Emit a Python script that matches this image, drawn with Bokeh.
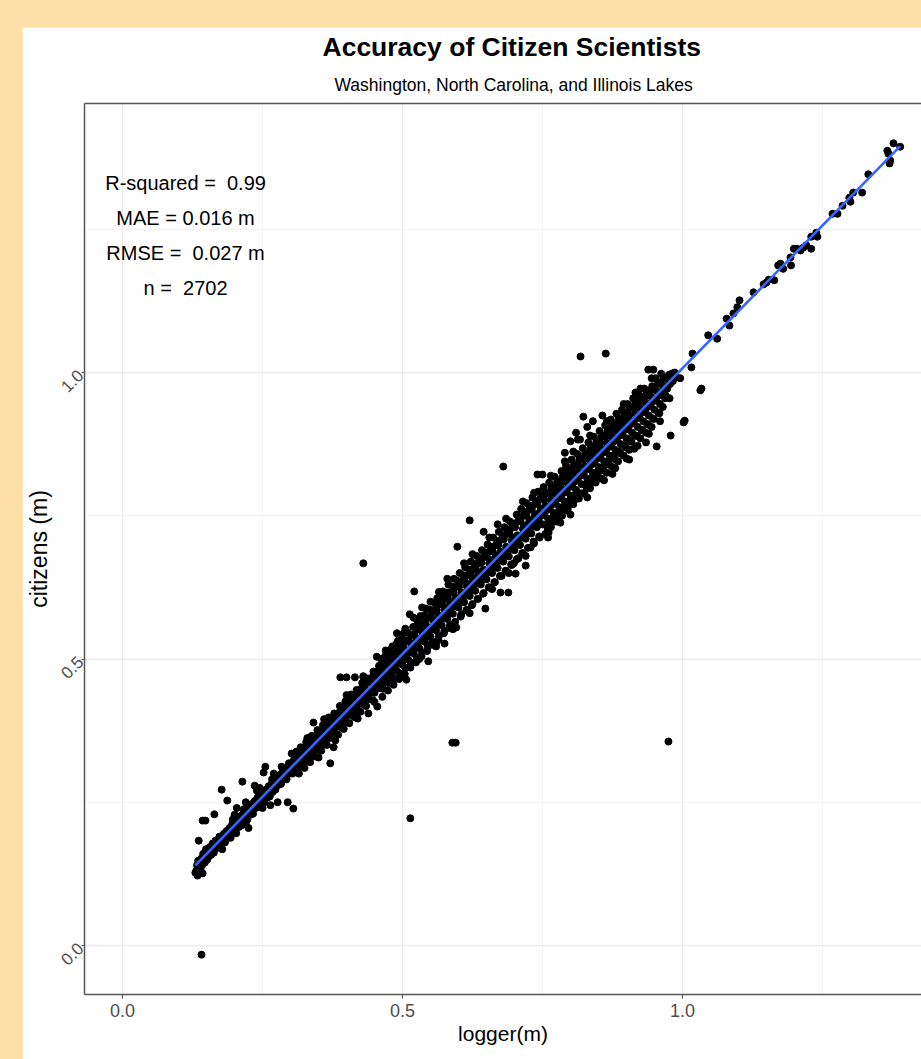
import math
from bokeh.plotting import figure
from bokeh.models import (Title, Label, FixedTicker, Range1d, LinearAxis,
                          PrintfTickFormatter, GlobalInlineStyleSheet)
from bokeh.embed import file_html
from bokeh.resources import INLINE

# ---------------- data ----------------
title_text = "Accuracy of Citizen Scientists"
subtitle_text = "Washington, North Carolina, and Illinois Lakes"
x_label = "logger(m)"
y_label = "citizens (m)"
tick_values = [0.0, 0.5, 1.0]
minor_tick_values = [0.25, 0.75, 1.25]
stats_lines = ["R-squared = \u00a00.99", "MAE = 0.016 m", "RMSE = \u00a00.027 m", "n = \u00a02702"]

# low band, logger 0.13 - 0.30
logger_low = [
    0.130, 0.134, 0.133, 0.137, 0.139,
    0.141, 0.143, 0.144, 0.147, 0.149,
    0.151, 0.153, 0.156, 0.158, 0.143, 0.148, 0.136,
    0.161, 0.163, 0.166, 0.168, 0.164,
    0.171, 0.173, 0.176, 0.178, 0.177,
    0.181, 0.183, 0.186, 0.188, 0.187,
    0.191, 0.193, 0.196, 0.198,
    0.201, 0.203, 0.206, 0.208, 0.204,
    0.211, 0.213, 0.216, 0.218, 0.214,
    0.221, 0.223, 0.226, 0.228, 0.225,
    0.231, 0.233, 0.236, 0.238, 0.236,
    0.241, 0.243, 0.246, 0.248, 0.245,
    0.251, 0.253, 0.256, 0.258, 0.255, 0.252,
    0.261, 0.263, 0.266, 0.268, 0.264,
    0.271, 0.273, 0.276, 0.278, 0.277,
    0.281, 0.283, 0.286, 0.288, 0.284,
    0.291, 0.293, 0.296, 0.298, 0.295,
    0.301, 0.303, 0.306, 0.308, 0.305, 0.302,
]
citizens_low = [
    0.127, 0.122, 0.140, 0.148, 0.133,
    0.152, 0.126, 0.160, 0.145, 0.168,
    0.150, 0.165, 0.172, 0.158, 0.218, 0.218, 0.183,
    0.178, 0.162, 0.183, 0.170, 0.229,
    0.173, 0.190, 0.182, 0.168, 0.272,
    0.195, 0.180, 0.200, 0.188, 0.253,
    0.205, 0.188, 0.212, 0.200,
    0.215, 0.196, 0.222, 0.207, 0.240,
    0.226, 0.210, 0.232, 0.218, 0.286,
    0.236, 0.220, 0.240, 0.228, 0.205,
    0.247, 0.230, 0.252, 0.240, 0.279,
    0.258, 0.242, 0.262, 0.250, 0.275,
    0.268, 0.250, 0.272, 0.258, 0.312, 0.302,
    0.278, 0.260, 0.282, 0.268, 0.245,
    0.288, 0.272, 0.294, 0.280, 0.250,
    0.298, 0.282, 0.303, 0.290, 0.312,
    0.308, 0.290, 0.312, 0.300, 0.250,
    0.318, 0.300, 0.324, 0.309, 0.239, 0.335,
]
logger_low_fill = [
    0.135, 0.132, 0.145, 0.142, 0.155, 0.152, 0.165, 0.162, 0.175, 0.172,
    0.185, 0.182, 0.195, 0.192, 0.197, 0.205, 0.202, 0.215, 0.212, 0.217,
    0.225, 0.222, 0.235, 0.232, 0.245, 0.242, 0.255, 0.252, 0.265, 0.262,
    0.267, 0.275, 0.272, 0.285, 0.282, 0.295, 0.292, 0.297, 0.305, 0.302,
]
citizens_low_fill = [
    0.148, 0.131, 0.156, 0.140, 0.168, 0.152, 0.176, 0.170, 0.188, 0.180,
    0.197, 0.190, 0.206, 0.198, 0.220, 0.218, 0.204, 0.226, 0.220, 0.238,
    0.238, 0.230, 0.246, 0.240, 0.258, 0.250, 0.265, 0.262, 0.278, 0.270,
    0.290, 0.286, 0.280, 0.296, 0.292, 0.308, 0.300, 0.318, 0.316, 0.310,
]

# band, logger 0.31 - 0.45
logger_mid = [
    0.311, 0.313, 0.316, 0.318, 0.315,
    0.321, 0.323, 0.326, 0.328, 0.325,
    0.331, 0.333, 0.336, 0.338, 0.335,
    0.341, 0.343, 0.346, 0.348, 0.341, 0.344,
    0.351, 0.353, 0.356, 0.358, 0.355,
    0.361, 0.363, 0.366, 0.368, 0.365,
    0.371, 0.373, 0.376, 0.378, 0.371, 0.377,
    0.381, 0.383, 0.386, 0.388, 0.385,
    0.391, 0.393, 0.396, 0.398, 0.395, 0.389,
    0.401, 0.403, 0.406, 0.408, 0.405, 0.400,
    0.411, 0.413, 0.416, 0.418, 0.415, 0.415,
    0.421, 0.423, 0.426, 0.428, 0.425,
    0.431, 0.433, 0.436, 0.438, 0.435, 0.430,
    0.441, 0.443, 0.446, 0.448, 0.439, 0.447,
    0.451, 0.453, 0.456, 0.458, 0.455, 0.454,
]
citizens_mid = [
    0.330, 0.310, 0.335, 0.320, 0.300,
    0.340, 0.322, 0.346, 0.330, 0.310,
    0.350, 0.332, 0.355, 0.340, 0.320,
    0.362, 0.342, 0.365, 0.350, 0.389, 0.330,
    0.372, 0.352, 0.377, 0.360, 0.340,
    0.382, 0.362, 0.386, 0.370, 0.350,
    0.392, 0.372, 0.396, 0.380, 0.318, 0.346,
    0.402, 0.383, 0.406, 0.390, 0.368,
    0.412, 0.393, 0.416, 0.400, 0.378, 0.468,
    0.422, 0.403, 0.428, 0.410, 0.388, 0.468,
    0.432, 0.412, 0.438, 0.420, 0.398, 0.468,
    0.442, 0.422, 0.448, 0.430, 0.408,
    0.452, 0.432, 0.458, 0.440, 0.418, 0.468,
    0.462, 0.442, 0.468, 0.450, 0.405, 0.428,
    0.472, 0.452, 0.478, 0.460, 0.417, 0.504,
]
logger_mid_fill = [
    0.315, 0.310, 0.318, 0.325, 0.320, 0.328, 0.335, 0.330, 0.338,
    0.345, 0.340, 0.348, 0.355, 0.350, 0.358, 0.365, 0.360, 0.368,
    0.375, 0.370, 0.378, 0.385, 0.380, 0.388, 0.395, 0.390, 0.398,
    0.405, 0.400, 0.408, 0.415, 0.410, 0.418, 0.425, 0.420, 0.428,
    0.435, 0.430, 0.438, 0.445, 0.440, 0.448, 0.455, 0.450, 0.458,
]
citizens_mid_fill = [
    0.326, 0.302, 0.346, 0.337, 0.313, 0.355, 0.346, 0.322, 0.366,
    0.357, 0.331, 0.376, 0.366, 0.342, 0.385, 0.377, 0.351, 0.398,
    0.386, 0.362, 0.405, 0.397, 0.370, 0.418, 0.406, 0.381, 0.426,
    0.417, 0.390, 0.438, 0.426, 0.401, 0.446, 0.437, 0.410, 0.458,
    0.446, 0.421, 0.466, 0.457, 0.430, 0.478, 0.466, 0.441, 0.488,
]

# band, logger 0.46 - 0.60
logger_upper_mid = [
    0.461, 0.463, 0.466, 0.468, 0.465, 0.462, 0.467,
    0.471, 0.473, 0.476, 0.478, 0.475, 0.472, 0.477,
    0.481, 0.483, 0.486, 0.488, 0.485, 0.482, 0.487,
    0.491, 0.493, 0.496, 0.498, 0.495, 0.492, 0.497,
    0.501, 0.503, 0.506, 0.508, 0.505, 0.502, 0.507,
    0.511, 0.513, 0.516, 0.518, 0.515, 0.513,
    0.521, 0.523, 0.526, 0.528, 0.525, 0.521, 0.527,
    0.531, 0.533, 0.536, 0.538, 0.535, 0.532, 0.537,
    0.541, 0.543, 0.546, 0.548, 0.545, 0.542, 0.546,
    0.551, 0.553, 0.556, 0.558, 0.555, 0.552, 0.560,
    0.561, 0.563, 0.566, 0.568, 0.565, 0.562, 0.575,
    0.571, 0.573, 0.576, 0.578, 0.575, 0.572, 0.577,
    0.581, 0.583, 0.586, 0.588, 0.585, 0.582, 0.587,
    0.591, 0.593, 0.596, 0.598, 0.596, 0.592,
    0.601, 0.603, 0.606, 0.608, 0.605, 0.602, 0.598,
]
citizens_upper_mid = [
    0.482, 0.462, 0.490, 0.470, 0.448, 0.500, 0.478,
    0.492, 0.472, 0.500, 0.480, 0.458, 0.510, 0.488,
    0.503, 0.482, 0.510, 0.490, 0.466, 0.522, 0.498,
    0.513, 0.492, 0.520, 0.500, 0.475, 0.532, 0.508,
    0.523, 0.502, 0.532, 0.510, 0.485, 0.545, 0.464,
    0.533, 0.512, 0.542, 0.520, 0.494, 0.578,
    0.543, 0.522, 0.552, 0.530, 0.503, 0.618, 0.565,
    0.553, 0.532, 0.562, 0.540, 0.512, 0.575, 0.548,
    0.564, 0.542, 0.573, 0.550, 0.520, 0.588, 0.496,
    0.574, 0.552, 0.584, 0.560, 0.530, 0.527, 0.527,
    0.585, 0.562, 0.595, 0.570, 0.540, 0.606, 0.527,
    0.595, 0.572, 0.605, 0.580, 0.550, 0.618, 0.588,
    0.606, 0.582, 0.616, 0.590, 0.560, 0.630, 0.598,
    0.616, 0.592, 0.626, 0.600, 0.555, 0.640,
    0.626, 0.602, 0.636, 0.610, 0.578, 0.650, 0.696,
]

# band, logger 0.61 - 0.74
logger_high = [
    0.611, 0.613, 0.616, 0.618, 0.615, 0.612, 0.617,
    0.621, 0.623, 0.626, 0.628, 0.625, 0.622, 0.620, 0.627,
    0.631, 0.633, 0.636, 0.638, 0.635, 0.632, 0.637,
    0.641, 0.643, 0.646, 0.648, 0.645, 0.642, 0.648, 0.645,
    0.651, 0.653, 0.656, 0.658, 0.655, 0.652, 0.657,
    0.661, 0.663, 0.666, 0.668, 0.665, 0.662, 0.667,
    0.671, 0.673, 0.676, 0.678, 0.675, 0.672, 0.670, 0.677,
    0.681, 0.683, 0.686, 0.688, 0.685, 0.682, 0.689,
    0.691, 0.693, 0.696, 0.698, 0.695, 0.692, 0.697,
    0.701, 0.703, 0.706, 0.708, 0.702, 0.699, 0.704, 0.707,
    0.711, 0.713, 0.716, 0.718, 0.715, 0.712, 0.717,
    0.721, 0.723, 0.726, 0.728, 0.720, 0.729, 0.722, 0.727,
    0.731, 0.733, 0.736, 0.738, 0.735, 0.732, 0.737,
    0.741, 0.743, 0.746, 0.748, 0.745, 0.742, 0.741, 0.747,
]
citizens_high = [
    0.637, 0.612, 0.646, 0.620, 0.586, 0.660, 0.630,
    0.647, 0.622, 0.656, 0.630, 0.596, 0.670, 0.742, 0.640,
    0.657, 0.632, 0.667, 0.640, 0.605, 0.680, 0.650,
    0.668, 0.642, 0.678, 0.650, 0.615, 0.690, 0.588, 0.722,
    0.678, 0.652, 0.688, 0.660, 0.625, 0.700, 0.670,
    0.688, 0.662, 0.698, 0.670, 0.634, 0.712, 0.680,
    0.699, 0.672, 0.708, 0.680, 0.616, 0.722, 0.735, 0.645,
    0.709, 0.682, 0.718, 0.690, 0.654, 0.730, 0.616,
    0.719, 0.692, 0.729, 0.700, 0.664, 0.740, 0.712,
    0.730, 0.702, 0.740, 0.710, 0.649, 0.667, 0.752, 0.676,
    0.740, 0.712, 0.750, 0.720, 0.684, 0.762, 0.732,
    0.750, 0.722, 0.760, 0.730, 0.663, 0.695, 0.772, 0.742,
    0.761, 0.732, 0.770, 0.740, 0.702, 0.782, 0.752,
    0.771, 0.742, 0.780, 0.750, 0.712, 0.792, 0.822, 0.762,
]
logger_high_fill = [
    0.465, 0.460, 0.469, 0.464, 0.475, 0.470, 0.479, 0.474,
    0.485, 0.480, 0.489, 0.484, 0.495, 0.490, 0.499, 0.494,
    0.505, 0.500, 0.509, 0.504, 0.515, 0.510, 0.519, 0.514,
    0.525, 0.520, 0.529, 0.524, 0.535, 0.530, 0.539, 0.534,
    0.545, 0.540, 0.549, 0.544, 0.555, 0.550, 0.559, 0.554,
    0.565, 0.560, 0.569, 0.564, 0.575, 0.570, 0.579, 0.574,
    0.585, 0.580, 0.589, 0.584, 0.595, 0.590, 0.599, 0.594,
    0.605, 0.600, 0.609, 0.604, 0.615, 0.610, 0.619, 0.614,
    0.625, 0.620, 0.629, 0.624, 0.635, 0.630, 0.639, 0.634,
    0.645, 0.640, 0.649, 0.644, 0.655, 0.650, 0.659, 0.654,
    0.665, 0.660, 0.669, 0.664, 0.675, 0.670, 0.679, 0.674,
    0.685, 0.680, 0.689, 0.684, 0.695, 0.690, 0.699, 0.694,
    0.705, 0.700, 0.709, 0.704, 0.715, 0.710, 0.719, 0.714,
    0.725, 0.720, 0.729, 0.724, 0.735, 0.730, 0.739, 0.734,
    0.745, 0.740, 0.749, 0.744,
]
citizens_high_fill = [
    0.476, 0.449, 0.505, 0.434, 0.487, 0.459, 0.516, 0.445,
    0.496, 0.470, 0.526, 0.455, 0.507, 0.479, 0.535, 0.465,
    0.516, 0.490, 0.546, 0.474, 0.527, 0.499, 0.556, 0.485,
    0.536, 0.510, 0.566, 0.494, 0.547, 0.519, 0.576, 0.505,
    0.556, 0.530, 0.586, 0.514, 0.567, 0.539, 0.596, 0.525,
    0.576, 0.550, 0.606, 0.534, 0.587, 0.559, 0.616, 0.545,
    0.596, 0.570, 0.626, 0.554, 0.607, 0.579, 0.636, 0.565,
    0.616, 0.590, 0.646, 0.574, 0.627, 0.599, 0.656, 0.585,
    0.636, 0.610, 0.666, 0.594, 0.647, 0.619, 0.676, 0.605,
    0.656, 0.630, 0.686, 0.614, 0.667, 0.639, 0.696, 0.625,
    0.676, 0.650, 0.706, 0.634, 0.687, 0.659, 0.716, 0.645,
    0.696, 0.670, 0.726, 0.654, 0.707, 0.679, 0.736, 0.665,
    0.716, 0.690, 0.746, 0.674, 0.727, 0.699, 0.756, 0.685,
    0.736, 0.710, 0.766, 0.694, 0.747, 0.719, 0.776, 0.705,
    0.756, 0.730, 0.786, 0.714,
]

# band, logger 0.75 - 0.99
logger_top = [
    0.751, 0.753, 0.756, 0.758, 0.755, 0.752, 0.750, 0.757, 0.759,
    0.761, 0.763, 0.766, 0.768, 0.765, 0.762, 0.767, 0.761,
    0.771, 0.773, 0.776, 0.778, 0.775, 0.772, 0.777, 0.774,
    0.781, 0.783, 0.786, 0.788, 0.785, 0.782, 0.787, 0.784,
    0.791, 0.793, 0.796, 0.798, 0.795, 0.792, 0.797, 0.794, 0.790,
    0.801, 0.803, 0.806, 0.808, 0.805, 0.802, 0.807, 0.804, 0.800,
    0.811, 0.813, 0.816, 0.818, 0.815, 0.812, 0.813, 0.817, 0.810,
    0.821, 0.823, 0.826, 0.828, 0.825, 0.822, 0.823, 0.827,
    0.831, 0.833, 0.836, 0.838, 0.835, 0.832, 0.837, 0.834, 0.830,
    0.841, 0.843, 0.846, 0.848, 0.845, 0.842, 0.847, 0.844, 0.840,
    0.851, 0.853, 0.856, 0.858, 0.855, 0.852, 0.857, 0.859,
    0.861, 0.863, 0.866, 0.868, 0.865, 0.862, 0.867,
    0.871, 0.873, 0.876, 0.878, 0.875, 0.872, 0.877, 0.874,
    0.881, 0.883, 0.886, 0.888, 0.885, 0.882, 0.887, 0.884,
    0.891, 0.893, 0.896, 0.898, 0.895, 0.892, 0.897, 0.894,
    0.901, 0.903, 0.906, 0.908, 0.905, 0.902, 0.907, 0.904,
    0.911, 0.913, 0.916, 0.918, 0.914, 0.912, 0.916, 0.917,
    0.921, 0.923, 0.926, 0.928, 0.925, 0.922, 0.927,
    0.931, 0.933, 0.936, 0.938, 0.935, 0.932, 0.937,
    0.941, 0.943, 0.946, 0.948, 0.945, 0.939, 0.948, 0.947,
    0.951, 0.953, 0.956, 0.958, 0.954, 0.952, 0.957,
    0.961, 0.963, 0.966, 0.968, 0.965, 0.962,
    0.971, 0.973, 0.976, 0.978, 0.979, 0.977,
    0.981, 0.983, 0.986, 0.988, 0.996,
]
citizens_top = [
    0.780, 0.752, 0.790, 0.760, 0.718, 0.800, 0.822, 0.735, 0.721,
    0.790, 0.762, 0.798, 0.770, 0.730, 0.808, 0.745, 0.721,
    0.800, 0.772, 0.808, 0.780, 0.740, 0.818, 0.755, 0.790,
    0.810, 0.782, 0.818, 0.790, 0.750, 0.738, 0.765, 0.828,
    0.820, 0.792, 0.828, 0.800, 0.760, 0.838, 0.775, 0.810, 0.860,
    0.830, 0.802, 0.838, 0.810, 0.770, 0.848, 0.785, 0.820, 0.880,
    0.840, 0.812, 0.848, 0.820, 0.780, 0.858, 0.883, 0.883, 0.895,
    0.850, 0.822, 0.858, 0.830, 0.790, 0.868, 0.923, 0.805,
    0.860, 0.832, 0.868, 0.840, 0.798, 0.878, 0.815, 0.850, 0.905,
    0.870, 0.842, 0.878, 0.850, 0.808, 0.888, 0.825, 0.860, 0.915,
    0.880, 0.852, 0.888, 0.860, 0.815, 0.898, 0.925, 0.835,
    0.890, 0.862, 0.898, 0.870, 0.825, 0.908, 0.845,
    0.900, 0.872, 0.908, 0.880, 0.835, 0.918, 0.855, 0.890,
    0.910, 0.882, 0.918, 0.890, 0.845, 0.928, 0.862, 0.900,
    0.920, 0.892, 0.928, 0.900, 0.855, 0.935, 0.872, 0.910,
    0.930, 0.902, 0.938, 0.910, 0.865, 0.945, 0.882, 0.920,
    0.940, 0.912, 0.948, 0.920, 0.867, 0.955, 0.965, 0.890,
    0.948, 0.922, 0.956, 0.930, 0.885, 0.962, 0.900,
    0.958, 0.932, 0.966, 0.940, 0.895, 0.972, 0.910,
    0.968, 0.942, 0.976, 0.950, 0.905, 1.005, 1.005, 0.920,
    0.975, 0.952, 0.982, 0.960, 0.871, 0.990, 0.930,
    0.982, 0.962, 0.990, 0.970, 0.940, 0.998,
    0.990, 0.972, 0.996, 0.980, 0.890, 0.955,
    0.998, 0.985, 1.000, 0.992, 0.990,
]
logger_top_fill = [
    0.755, 0.750, 0.759, 0.753, 0.765, 0.760, 0.769, 0.763,
    0.775, 0.770, 0.779, 0.773, 0.785, 0.780, 0.789, 0.783,
    0.795, 0.790, 0.799, 0.793, 0.805, 0.800, 0.809, 0.803,
    0.815, 0.810, 0.819, 0.813, 0.825, 0.820, 0.829, 0.823,
    0.835, 0.830, 0.839, 0.833, 0.845, 0.840, 0.849, 0.843,
    0.855, 0.850, 0.859, 0.853, 0.865, 0.860, 0.869, 0.863,
    0.875, 0.870, 0.879, 0.873, 0.885, 0.880, 0.889, 0.883,
    0.895, 0.890, 0.899, 0.893, 0.905, 0.900, 0.909, 0.903,
    0.915, 0.910, 0.919, 0.913, 0.925, 0.920, 0.929, 0.923,
    0.935, 0.930, 0.939, 0.933, 0.945, 0.940, 0.949, 0.943,
    0.955, 0.950, 0.959, 0.965, 0.960, 0.969, 0.975, 0.970,
]
citizens_top_fill = [
    0.767, 0.735, 0.729, 0.778, 0.777, 0.745, 0.739, 0.788,
    0.787, 0.755, 0.749, 0.798, 0.797, 0.765, 0.759, 0.808,
    0.807, 0.775, 0.769, 0.818, 0.817, 0.785, 0.779, 0.828,
    0.827, 0.795, 0.789, 0.838, 0.837, 0.805, 0.799, 0.848,
    0.847, 0.815, 0.809, 0.858, 0.857, 0.825, 0.819, 0.868,
    0.867, 0.835, 0.829, 0.878, 0.877, 0.845, 0.839, 0.888,
    0.887, 0.855, 0.849, 0.898, 0.897, 0.865, 0.859, 0.908,
    0.907, 0.875, 0.869, 0.918, 0.917, 0.885, 0.879, 0.928,
    0.927, 0.895, 0.889, 0.938, 0.937, 0.905, 0.899, 0.948,
    0.947, 0.915, 0.909, 0.958, 0.957, 0.925, 0.919, 0.968,
    0.967, 0.935, 0.929, 0.977, 0.945, 0.955, 0.987, 0.960,
]

# ragged edges of the cloud
logger_edge = [
    0.470, 0.490, 0.505, 0.520, 0.535, 0.550, 0.565, 0.580, 0.610, 0.625,
    0.655, 0.685, 0.715, 0.735, 0.765, 0.790, 0.805, 0.835, 0.865, 0.895,
    0.925, 0.945,
    0.500, 0.530, 0.560, 0.590, 0.620, 0.660, 0.690, 0.720, 0.760, 0.800,
    0.830, 0.860, 0.880, 0.900, 0.920, 0.940, 0.960, 0.935, 0.905, 0.875,
    0.200, 0.220, 0.240, 0.270, 0.310, 0.330, 0.360, 0.400, 0.430, 0.350,
    0.380, 0.420, 0.450, 0.250, 0.220,
]
citizens_edge = [
    0.515, 0.545, 0.553, 0.572, 0.590, 0.600, 0.617, 0.640, 0.667, 0.683,
    0.712, 0.745, 0.775, 0.790, 0.820, 0.845, 0.862, 0.890, 0.915, 0.945,
    0.972, 0.990,
    0.470, 0.500, 0.522, 0.552, 0.580, 0.622, 0.650, 0.680, 0.712, 0.752,
    0.782, 0.812, 0.833, 0.850, 0.872, 0.893, 0.915, 0.878, 0.848, 0.823,
    0.228, 0.250, 0.270, 0.300, 0.338, 0.362, 0.395, 0.437, 0.470, 0.328,
    0.358, 0.396, 0.425, 0.240, 0.212,
]

# sparse points above logger 1.0
logger_deep = [
    1.002, 1.004, 1.018, 1.016, 1.032, 1.034, 1.046, 1.062, 1.079, 1.084,
    1.091, 1.098, 1.102, 1.127, 1.145, 1.150, 1.154, 1.164, 1.171, 1.175,
    1.180, 1.193, 1.194, 1.199, 1.205, 1.211, 1.216, 1.221, 1.230, 1.230,
    1.239, 1.241, 1.268, 1.277, 1.286, 1.298, 1.300, 1.305, 1.321, 1.332,
    1.366, 1.368, 1.371, 1.370, 1.377, 1.389,
]
citizens_deep = [
    0.913, 0.916, 1.033, 1.009, 0.969, 0.972, 1.065, 1.059, 1.094, 1.082,
    1.103, 1.114, 1.126, 1.140, 1.154, 1.157, 1.162, 1.161, 1.187, 1.190,
    1.181, 1.201, 1.187, 1.216, 1.216, 1.213, 1.218, 1.222, 1.216, 1.237,
    1.244, 1.237, 1.277, 1.277, 1.291, 1.305, 1.298, 1.314, 1.314, 1.346,
    1.387, 1.382, 1.370, 1.365, 1.400, 1.394,
]

# isolated outliers
logger_out = [0.141, 0.514, 0.589, 0.595, 0.975, 0.430, 0.818, 0.863, 0.680]
citizens_out = [-0.016, 0.222, 0.354, 0.354, 0.356, 0.667, 1.028, 1.033, 0.836]

# fitted linear trend (end points)
fit_logger = [0.130, 1.389]
fit_citizens = [0.140, 1.395]

# ---------------- assemble ----------------
def pair(a, b):
    n = min(len(a), len(b))
    return list(a[:n]), list(b[:n])

groups = [(logger_low, citizens_low), (logger_low_fill, citizens_low_fill),
          (logger_mid, citizens_mid), (logger_mid_fill, citizens_mid_fill),
          (logger_upper_mid, citizens_upper_mid), (logger_high, citizens_high),
          (logger_high_fill, citizens_high_fill),
          (logger_top, citizens_top), (logger_top_fill, citizens_top_fill),
          (logger_edge, citizens_edge),
          (logger_deep, citizens_deep), (logger_out, citizens_out)]
xs, ys = [], []
for a, b in groups:
    pa, pb = pair(a, b)
    xs += pa
    ys += pb

BEIGE = "#FDDFA7"
SANS = "Liberation Sans"
GREY_TXT = "#4D4D4D"
AXIS_COL = "#555555"

p = figure(width=899, height=1032, output_backend="svg", toolbar_location=None,
           title=None,
           x_range=Range1d(-0.068, 1.427), y_range=Range1d(-0.0855, 1.4695),
           min_border_left=62, min_border_right=0, min_border_top=76,
           min_border_bottom=65,
           background_fill_color="white", border_fill_color="white",
           outline_line_color=None, margin=(27, 0, 0, 22))
p.stylesheets = [GlobalInlineStyleSheet(css="html, body { background-color: %s; }" % BEIGE)]

ticker = FixedTicker(ticks=tick_values, minor_ticks=minor_tick_values)
for ax in list(p.xaxis) + list(p.yaxis):
    ax.ticker = ticker
    ax.formatter = PrintfTickFormatter(format="%.1f")
    ax.axis_line_color = AXIS_COL
    ax.axis_line_width = 1.5
    ax.major_tick_line_color = AXIS_COL
    ax.major_tick_line_width = 1.2
    ax.major_tick_out = 4
    ax.major_tick_in = 0
    ax.minor_tick_line_color = None
    ax.major_label_text_color = GREY_TXT
    ax.major_label_text_font = SANS
    ax.axis_label_text_font = SANS
    ax.axis_label_text_font_style = "normal"
    ax.axis_label_text_color = "black"

p.xaxis.axis_label = x_label
p.xaxis.axis_label_text_font_size = "21px"
p.xaxis.major_label_text_font_size = "18px"
p.xaxis.major_label_standoff = 5
p.xaxis.axis_label_standoff = 2

p.yaxis.axis_label = y_label
p.yaxis.axis_label_text_font_size = "23px"
p.yaxis.major_label_text_font_size = "17px"
p.yaxis.major_label_orientation = math.pi / 4
p.yaxis.major_label_standoff = 0
p.yaxis.axis_label_standoff = 0
p.yaxis.major_tick_out = 3

for g in list(p.xgrid) + list(p.ygrid):
    g.ticker = ticker
    g.grid_line_color = "#EBEBEB"
    g.grid_line_width = 1.3
    g.minor_grid_line_color = "#F3F3F3"
    g.minor_grid_line_width = 1.0

# top panel border drawn as an unlabeled axis (added after styling the x axes)
top_axis = LinearAxis(ticker=FixedTicker(ticks=[]), axis_line_color=AXIS_COL,
                      axis_line_width=1.5, major_tick_line_color=None,
                      minor_tick_line_color=None, major_label_text_font_size="0px",
                      major_label_standoff=0)
p.add_layout(top_axis, "above")

p.add_layout(Title(text=subtitle_text, align="left", text_font=SANS,
                   text_font_size="17.5px", text_font_style="normal",
                   text_color="black", standoff=17, offset=250), "above")
p.add_layout(Title(text=title_text, align="left", text_font=SANS,
                   text_font_size="26.5px", text_font_style="bold",
                   text_color="black", standoff=5, offset=238), "above")

p.scatter(xs, ys, size=7, color="black", line_color="black")
p.line(fit_logger, fit_citizens, line_color="#3366FF", line_width=2.6)

stat_y = [1.330, 1.269, 1.208, 1.147]
for txt, yy in zip(stats_lines, stat_y):
    p.add_layout(Label(x=0.1125, y=yy, text=txt, text_align="center",
                       text_baseline="middle", text_font=SANS,
                       text_font_size="20px", text_color="black"))

open("out.html", "w").write(file_html(p, INLINE))
